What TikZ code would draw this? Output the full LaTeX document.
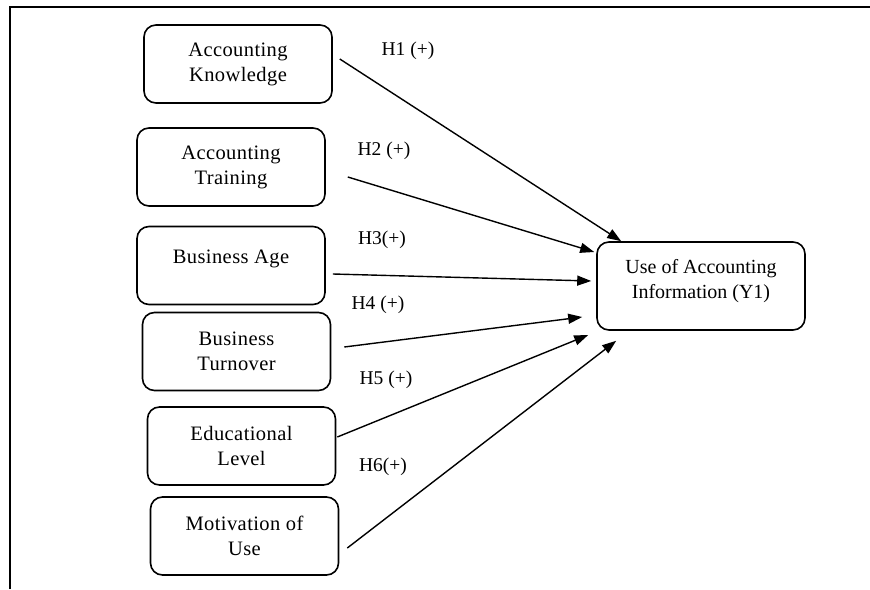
\documentclass[tikz,border=0pt]{standalone}
\usepackage{fontspec}
\setmainfont{Liberation Serif}
\newfontfamily\boxfont[LetterSpace=2]{Liberation Serif}
\usetikzlibrary{arrows.meta,calc}
\begin{document}
\begin{tikzpicture}[x=1pt,y=-1pt,
  factor/.style={draw,line width=1.6pt,rounded corners=12pt,
    minimum width=188pt,minimum height=78pt,align=center,inner sep=0pt,
    font=\boxfont\fontsize{20.5}{25}\selectfont},
  outcome/.style={factor,minimum width=208pt,minimum height=88pt,
    font=\fontsize{20}{25}\selectfont},
  hyp/.style={font=\fontsize{19.5}{23}\selectfont,inner sep=0pt},
  link/.style={line width=1.4pt,-{Triangle[length=14pt,width=10pt]}}]
  \useasboundingbox (0,0) rectangle (870,589);
  % open frame: left and top rule
  \draw[line width=1.8pt] (10,589) -- (10,7) -- (870,7);

  % explanatory factors
  \node[factor] (know) at (238,64)    {Accounting\\Knowledge};
  \node[factor] (train) at (231,167)  {Accounting\\Training};
  \node[factor] (age) at (231,265.5)  {};
  \node[font=\boxfont\fontsize{20.5}{25}\selectfont] (agetext) at (231,259) {Business Age};
  \node[factor] (turn) at (236.5,351.5) {Business\\Turnover};
  \node[factor] (edu) at (241.5,446)  {Educational\\Level};
  \node[factor] (mot) at (244.5,536)  {Motivation of\\Use};

  % dependent variable
  \node[outcome] (use) at (701,286) {};
  \node[align=center,font=\fontsize{20}{25}\selectfont] (usetext) at (701,281)
    {Use of Accounting\\Information (Y1)};

  % hypothesised paths
  \draw[link] ($(know.east)+(7,-5)$)   -- ($(use.north west)+(25,0)$);
  \draw[link] ($(train.east)+(22,10)$) -- ($(use.west)+(-2,-34)$);
  \draw[link] ($(age.east)+(7,8.5)$)   -- ($(use.west)+(-5,-5)$);
  \draw[link] ($(turn.east)+(13,-4.5)$) -- ($(use.west)+(-14,31)$);
  \draw[link] ($(edu.east)+(1,-9)$)    -- ($(use.west)+(-8,49)$);
  \draw[link] ($(mot.east)+(8,12)$)    -- ($(use.south west)+(20,10)$);

  % hypothesis labels
  \node[hyp] (h1) at (408,51)  {H1 (+)};
  \node[hyp] (h2) at (384,151) {H2 (+)};
  \node[hyp] (h3) at (382,240) {H3(+)};
  \node[hyp] (h4) at (378,305) {H4 (+)};
  \node[hyp] (h5) at (386,380) {H5 (+)};
  \node[hyp] (h6) at (383,467) {H6(+)};
\end{tikzpicture}
\end{document}
